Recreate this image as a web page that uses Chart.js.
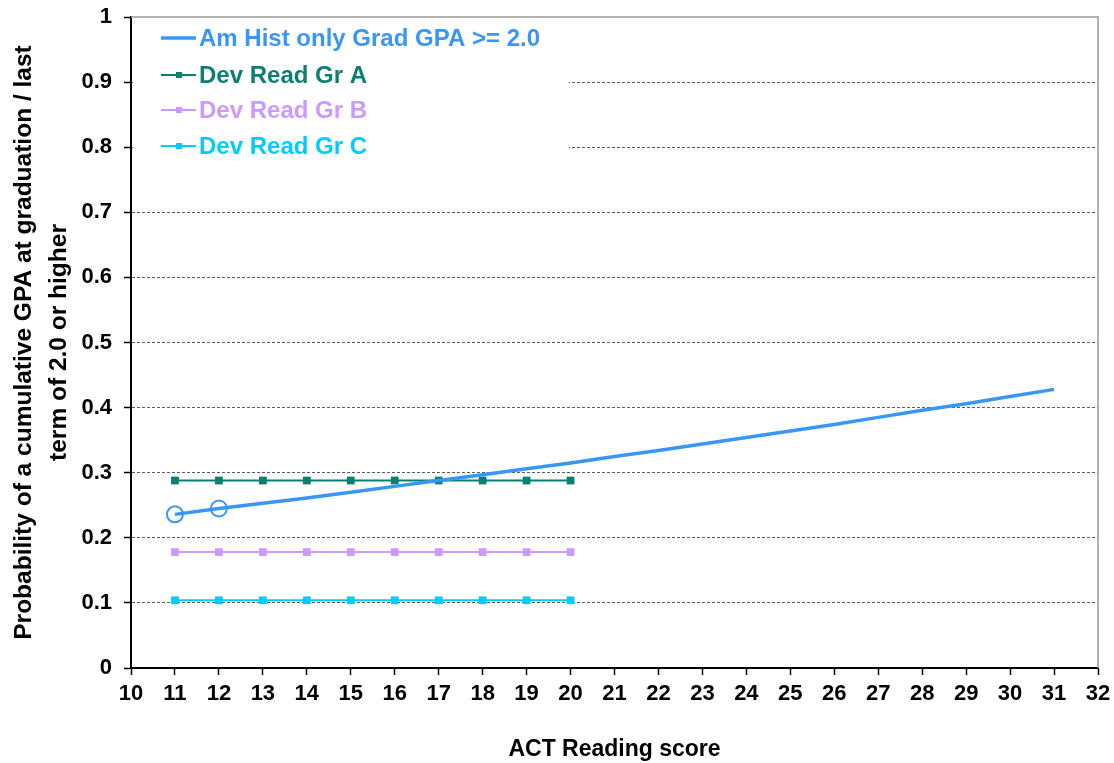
<!DOCTYPE html>
<html>
<head>
<meta charset="utf-8">
<script src="https://cdn.jsdelivr.net/npm/chart.js@4.4.0/dist/chart.umd.min.js"></script>
<style>
  html, body { margin: 0; padding: 0; background: #fff; }
  #wrap { width: 1114px; height: 763px; }
</style>
</head>
<body>
<div id="wrap"><canvas id="grafico"></canvas></div>
<script>
  // dados
  const pontuacoes = [11, 12, 13, 14, 15, 16, 17, 18, 19, 20, 21, 22, 23, 24, 25, 26, 27, 28, 29, 30, 31];
  const amHist = [0.236, 0.245, 0.253, 0.261, 0.270, 0.279, 0.288, 0.297, 0.306, 0.315, 0.325,
                  0.334, 0.344, 0.354, 0.364, 0.374, 0.385, 0.396, 0.406, 0.417, 0.428];
  const pontuacoesDev = [11, 12, 13, 14, 15, 16, 17, 18, 19, 20];
  const devA = [0.288, 0.288, 0.288, 0.288, 0.288, 0.288, 0.288, 0.288, 0.288, 0.288];
  const devB = [0.178, 0.178, 0.178, 0.178, 0.178, 0.178, 0.178, 0.178, 0.178, 0.178];
  const devC = [0.104, 0.104, 0.104, 0.104, 0.104, 0.104, 0.104, 0.104, 0.104, 0.104];
  const rotulos = ['Am Hist only Grad GPA >= 2.0', 'Dev Read Gr A', 'Dev Read Gr B', 'Dev Read Gr C'];
  const cores = ['#3796f6', '#0c7f73', '#cc99ff', '#00ccff'];

  const fonte = 'Arial, "Liberation Sans", sans-serif';

  function pares(xs, ys) {
    return xs.map((x, i) => ({ x: x, y: ys[i] }));
  }

  // legenda desenhada dentro da area do grafico, com fundo branco
  const legendaInterna = {
    id: 'legendaInterna',
    afterDatasetsDraw(chart) {
      const ctx = chart.ctx;
      const area = chart.chartArea;
      ctx.save();
      ctx.fillStyle = '#fff';
      ctx.fillRect(area.left + 2, area.top + 1, 436, 147);
      const linhas = [21, 58, 93, 129];
      chart.data.datasets.forEach((ds, i) => {
        const y = area.top + linhas[i];
        const x0 = area.left + 30;
        ctx.strokeStyle = ds.borderColor;
        ctx.lineWidth = i === 0 ? 3.5 : 2;
        ctx.beginPath();
        ctx.moveTo(x0, y);
        ctx.lineTo(x0 + 35, y);
        ctx.stroke();
        if (i > 0) {
          ctx.fillStyle = ds.borderColor;
          ctx.fillRect(x0 + 15, y - 3, 6, 6);
        }
        ctx.fillStyle = ds.borderColor;
        ctx.font = 'bold 24px ' + fonte;
        ctx.textBaseline = 'middle';
        ctx.fillText(ds.label, x0 + 38, y + 1);
      });
      ctx.restore();
    },
    afterDraw(chart) {
      const ctx = chart.ctx;
      const area = chart.chartArea;
      ctx.save();
      ctx.strokeStyle = '#9a9a9a';
      ctx.lineWidth = 1.5;
      ctx.beginPath();
      ctx.moveTo(area.left, area.top);
      ctx.lineTo(area.right, area.top);
      ctx.lineTo(area.right, area.bottom);
      ctx.stroke();
      ctx.restore();
    }
  };

  const ctx = document.getElementById('grafico').getContext('2d');
  new Chart(ctx, {
    type: 'line',
    data: {
      datasets: [
        {
          label: rotulos[0],
          data: pares(pontuacoes, amHist),
          borderColor: cores[0],
          backgroundColor: 'rgba(0,0,0,0)',
          borderWidth: 3.5,
          pointRadius: pontuacoes.map((p, i) => i < 2 ? 8 : 0),
          pointBorderWidth: 2,
          pointBorderColor: cores[0],
          pointBackgroundColor: 'rgba(0,0,0,0)',
          order: 0
        },
        {
          label: rotulos[1],
          data: pares(pontuacoesDev, devA),
          borderColor: cores[1],
          backgroundColor: cores[1],
          borderWidth: 2,
          pointStyle: 'rect',
          pointRadius: 5.5,
          pointBorderWidth: 0,
          order: 1
        },
        {
          label: rotulos[2],
          data: pares(pontuacoesDev, devB),
          borderColor: cores[2],
          backgroundColor: cores[2],
          borderWidth: 2,
          pointStyle: 'rect',
          pointRadius: 5.5,
          pointBorderWidth: 0,
          order: 2
        },
        {
          label: rotulos[3],
          data: pares(pontuacoesDev, devC),
          borderColor: cores[3],
          backgroundColor: cores[3],
          borderWidth: 2,
          pointStyle: 'rect',
          pointRadius: 5.5,
          pointBorderWidth: 0,
          order: 3
        }
      ]
    },
    options: {
      responsive: true,
      maintainAspectRatio: false,
      animation: false,
      layout: { padding: { top: 17, right: 16, left: 0, bottom: 0 } },
      plugins: {
        legend: { display: false },
        tooltip: { enabled: false }
      },
      scales: {
        x: {
          type: 'linear',
          min: 10,
          max: 32,
          ticks: {
            stepSize: 1,
            color: '#000',
            padding: 6,
            maxRotation: 0,
            autoSkip: false,
            font: { family: fonte, size: 22, weight: 'bold' }
          },
          grid: {
            drawOnChartArea: false,
            drawTicks: true,
            tickLength: 7,
            tickColor: '#000',
            tickWidth: 1.5
          },
          border: { color: '#000', width: 2 },
          title: {
            display: true,
            text: 'ACT Reading score',
            color: '#000',
            padding: { top: 26, bottom: 0 },
            font: { family: fonte, size: 23, weight: 'bold' }
          },
          afterFit(scale) {
            scale.height = 95;
            scale.paddingLeft = 0;
            scale.paddingRight = 0;
          }
        },
        y: {
          min: 0,
          max: 1,
          ticks: {
            stepSize: 0.1,
            color: '#000',
            padding: 12,
            font: { family: fonte, size: 22, weight: 'bold' },
            callback: v => String(Math.round(v * 10) / 10)
          },
          grid: {
            drawTicks: true,
            tickLength: 7,
            tickColor: '#000',
            tickWidth: 1.5,
            tickBorderDash: [],
            color: c => (c.tick.value > 0.001 && c.tick.value < 0.999) ? '#5a5a5a' : 'rgba(0,0,0,0)',
            lineWidth: 1
          },
          border: { color: '#000', width: 2, dash: [3, 2] },
          title: {
            display: true,
            text: ['Probability of a cumulative GPA at graduation / last', 'term of 2.0 or higher'],
            color: '#000',
            padding: { top: 6, bottom: 0 },
            font: { family: fonte, size: 24.5, weight: 'bold', lineHeight: 1.45 }
          },
          afterFit(scale) {
            scale.width = 131;
            scale.paddingTop = 0;
            scale.paddingBottom = 0;
          }
        }
      }
    },
    plugins: [legendaInterna]
  });
</script>
</body>
</html>
